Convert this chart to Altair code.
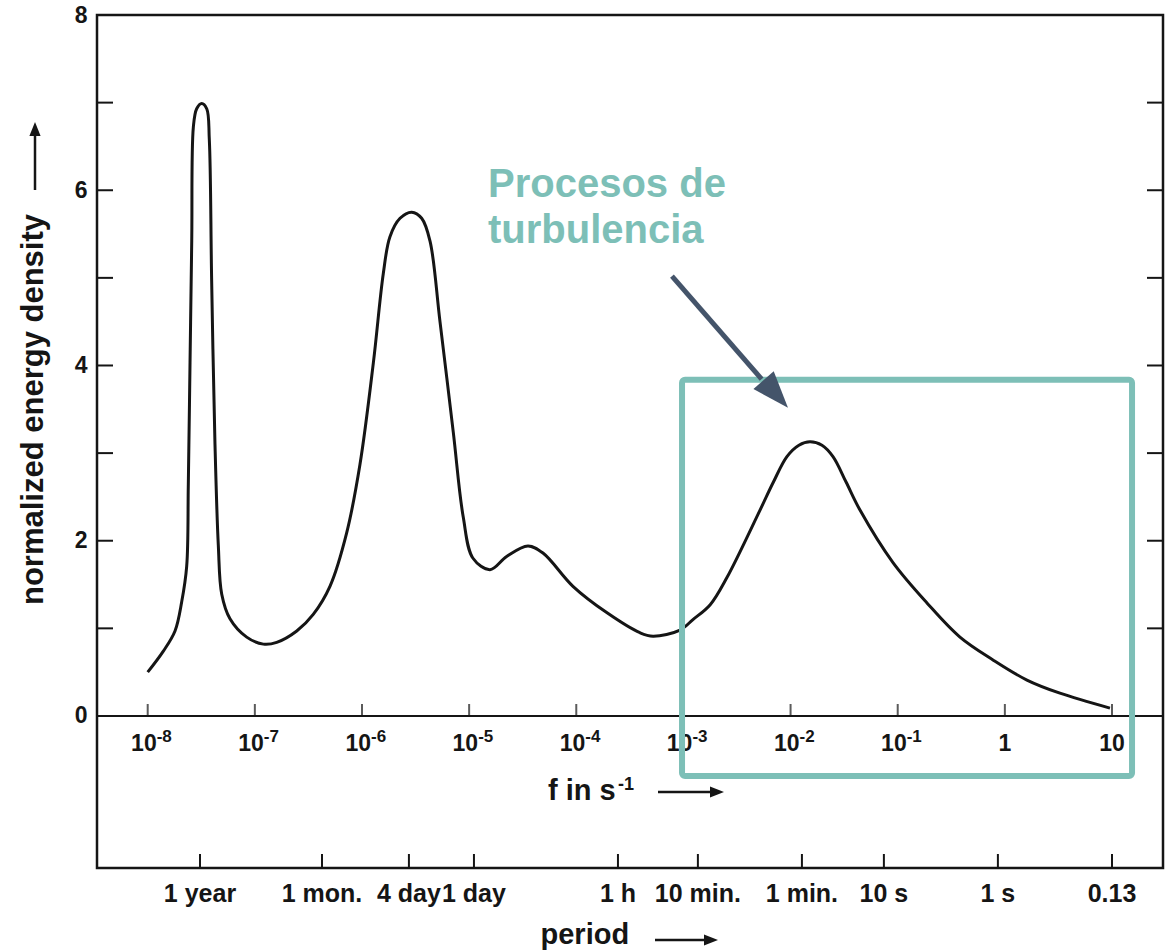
import altair as alt
import pandas as pd

FONT = "Liberation Sans, Arial, Helvetica, sans-serif"
INK = "#151515"
TEAL = "#7dbfb7"
SLATE = "#44546a"

# ---- curve: log10(frequency in s^-1) and normalized energy density ----
LOG_F = [-8.00, -7.854, -7.745, -7.683, -7.636, -7.621, -7.605, -7.589, -7.574, -7.543,
         -7.496, -7.449, -7.425, -7.403, -7.372, -7.341, -7.309, -7.232, -7.076, -6.921,
         -6.796, -6.609, -6.455, -6.299, -6.143, -6.019, -5.894, -5.801, -5.739, -5.645,
         -5.536, -5.443, -5.365, -5.272, -5.148, -5.055, -4.964, -4.805, -4.650, -4.451,
         -4.311, -4.031, -3.716, -3.406, -3.284, -3.032, -2.911, -2.750, -2.594, -2.285,
         -2.160, -2.034, -1.922, -1.819, -1.707, -1.604, -1.482, -1.352, -1.044, -0.727,
         -0.419, -0.111, 0.206, 0.514, 0.981]
ENERGY = [0.50, 0.74, 0.97, 1.30, 1.71, 2.64, 4.03, 5.42, 6.72, 6.93,
          6.99, 6.93, 6.58, 4.96, 3.10, 1.95, 1.39, 1.11, 0.90, 0.82,
          0.84, 0.97, 1.16, 1.48, 2.09, 2.87, 4.03, 5.05, 5.47, 5.68,
          5.75, 5.68, 5.42, 4.50, 3.24, 2.27, 1.80, 1.67, 1.82, 1.94,
          1.86, 1.48, 1.18, 0.95, 0.91, 0.98, 1.10, 1.27, 1.58, 2.35,
          2.67, 2.96, 3.09, 3.13, 3.09, 2.96, 2.67, 2.35, 1.75, 1.29,
          0.90, 0.64, 0.41, 0.26, 0.09]

# ---- frequency axis (inside the plot, on the zero line) ----
DECADE_EXP = [-8, -7, -6, -5, -4, -3, -2, -1]
PLAIN_EXP = [0, 1]
PLAIN_LABELS = ["1", "10"]

# ---- period axis (bottom) ----
PERIOD_LOGF = [-7.512, -6.373, -5.562, -4.955, -3.611, -2.865, -1.894, -1.129, -0.065, 1.0]
PERIOD_LABELS = ["1 year", "1 mon.", "4 day", "1 day", "1 h", "10 min.", "1 min.", "10 s", "1 s", "0.13"]

# ---- y axis ----
Y_MINOR = [1, 2, 3, 4, 5, 6, 7]
Y_LABELS = [0, 2, 4, 6, 8]

W, H = 1066, 853
xs = alt.Scale(type="log", domain=[10 ** -8.4732, 10 ** 1.4760], nice=False)
ys = alt.Scale(domain=[-1.735, 8.0], nice=False, zero=False)

curve = pd.DataFrame({"f": [10 ** v for v in LOG_F], "e": ENERGY})

line = alt.Chart(curve).mark_line(color=INK, strokeWidth=3, interpolate="catmull-rom").encode(
    x=alt.X("f:Q", scale=xs, axis=alt.Axis(
        labels=False, ticks=False, domain=False, grid=False,
        title="period", titleFont=FONT, titleFontSize=29, titleFontWeight="bold",
        titleColor=INK, titleX=443, titleY=75, titleAlign="left", titleBaseline="alphabetic")),
    y=alt.Y("e:Q", scale=ys, axis=alt.Axis(
        values=Y_LABELS, format="d", ticks=False, domain=False, grid=False,
        labelFont=FONT, labelFontSize=23, labelFontWeight="bold", labelColor=INK, labelPadding=10,
        title="normalized energy density", titleFont=FONT, titleFontSize=31,
        titleFontWeight="bold", titleColor=INK, titleAngle=270, titleX=-55, titleY=394,
        titleAlign="center", titleBaseline="alphabetic")),
)

zero_df = pd.DataFrame({"e": [0]})
zero_line = alt.Chart(zero_df).mark_rule(color=INK, strokeWidth=2).encode(
    y=alt.Y("e:Q"), x=alt.value(0), x2=alt.value(W))

ytk = pd.DataFrame({"e": Y_MINOR})
left_ticks = alt.Chart(ytk).mark_rule(color=INK, strokeWidth=2).encode(
    y=alt.Y("e:Q"), x=alt.value(0), x2=alt.value(16))
right_ticks = alt.Chart(ytk).mark_rule(color=INK, strokeWidth=2).encode(
    y=alt.Y("e:Q"), x=alt.value(W - 16), x2=alt.value(W))

dec = pd.DataFrame({
    "f": [10.0 ** e for e in DECADE_EXP + PLAIN_EXP],
    "e": [0] * (len(DECADE_EXP) + len(PLAIN_EXP)),
})
dec_ticks = alt.Chart(dec).mark_tick(color=INK, orient="vertical", size=12, thickness=2, yOffset=-6).encode(
    x="f:Q", y="e:Q")

dec_lab = pd.DataFrame({"f": [10.0 ** e for e in DECADE_EXP], "e": [0] * len(DECADE_EXP),
                        "base": ["10"] * len(DECADE_EXP), "exp": [str(e) for e in DECADE_EXP]})
dec_base = alt.Chart(dec_lab).mark_text(font=FONT, fontSize=23, fontWeight="bold", color=INK,
                                        align="right", baseline="alphabetic", dx=9, dy=35).encode(
    x="f:Q", y="e:Q", text="base:N")
dec_exp = alt.Chart(dec_lab).mark_text(font=FONT, fontSize=17, fontWeight="bold", color=INK,
                                       align="left", baseline="alphabetic", dx=9, dy=26).encode(
    x="f:Q", y="e:Q", text="exp:N")
plain_lab = pd.DataFrame({"f": [10.0 ** e for e in PLAIN_EXP], "e": [0] * len(PLAIN_EXP), "lab": PLAIN_LABELS})
plain_text = alt.Chart(plain_lab).mark_text(font=FONT, fontSize=23, fontWeight="bold", color=INK,
                                            align="center", baseline="alphabetic", dy=35).encode(
    x="f:Q", y="e:Q", text="lab:N")

per = pd.DataFrame({"f": [10 ** v for v in PERIOD_LOGF], "lab": PERIOD_LABELS})
per_ticks = alt.Chart(per).mark_rule(color=INK, strokeWidth=2).encode(
    x="f:Q", y=alt.value(H - 14), y2=alt.value(H))
per_text = alt.Chart(per).mark_text(font=FONT, fontSize=25, fontWeight="bold", color=INK,
                                    align="center", baseline="alphabetic").encode(
    x="f:Q", y=alt.value(H + 34), text="lab:N")

# "f in s^-1" label inside the plot
fl = pd.DataFrame({"f": [10 ** -4.264, 10 ** -3.611],
                   "e": [-0.959, -0.845],
                   "t": ["f in s", "-1"],
                   "fs": [29, 18]})
f_label = alt.Chart(fl).mark_text(font=FONT, fontWeight="bold", color=INK, align="left",
                                  baseline="alphabetic").encode(
    x="f:Q", y="e:Q", text="t:N", size=alt.Size("fs:Q", scale=None))

# small direction arrows next to the axis titles (decoration)
HEAD = "M0,-1L0.8,1L-0.8,1Z"
y_arrow = alt.Chart(zero_df).mark_rule(color=INK, strokeWidth=2.5).encode(
    x=alt.value(-62), y=alt.value(175), y2=alt.value(118))
y_head = alt.Chart(zero_df).mark_point(shape=HEAD, size=196, filled=True, opacity=1, color=INK,
                                       strokeWidth=0, angle=0).encode(
    x=alt.value(-62), y=alt.value(114))
f_arrow = alt.Chart(zero_df).mark_rule(color=INK, strokeWidth=2.5).encode(
    x=alt.value(561), x2=alt.value(616), y=alt.value(777))
f_head = alt.Chart(zero_df).mark_point(shape=HEAD, size=196, filled=True, opacity=1, color=INK,
                                       strokeWidth=0, angle=90).encode(
    x=alt.value(620), y=alt.value(777))
p_arrow = alt.Chart(zero_df).mark_rule(color=INK, strokeWidth=2.5).encode(
    x=alt.value(558), x2=alt.value(610), y=alt.value(925))
p_head = alt.Chart(zero_df).mark_point(shape=HEAD, size=196, filled=True, opacity=1, color=INK,
                                       strokeWidth=0, angle=90).encode(
    x=alt.value(614), y=alt.value(925))

# annotation: box, arrow, text
box = pd.DataFrame({"f0": [10 ** -3.013], "f1": [10 ** 1.187], "e0": [3.836], "e1": [-0.685]})
box_mark = alt.Chart(box).mark_rect(fillOpacity=0, stroke=TEAL, strokeWidth=6, cornerRadius=3).encode(
    x="f0:Q", x2="f1:Q", y="e0:Q", y2="e1:Q")

arr = pd.DataFrame({"f0": [10 ** -3.107], "e0": [5.02], "f1": [10 ** -2.270], "e1": [3.845]})
arrow_line = alt.Chart(arr).mark_rule(color=SLATE, strokeWidth=5).encode(
    x="f0:Q", y="e0:Q", x2="f1:Q", y2="e1:Q")
head = pd.DataFrame({"f": [10 ** -2.138], "e": [3.675]})
arrow_head = alt.Chart(head).mark_point(shape="M0,-1L0.73,1L-0.73,1Z", size=1369, filled=True,
                                        color=SLATE, opacity=1, angle=138.7, strokeWidth=0).encode(
    x="f:Q", y="e:Q")

ann = pd.DataFrame({"f": [10 ** -4.824, 10 ** -4.824], "e": [5.925, 5.40],
                    "t": ["Procesos de", "turbulencia"]})
ann_text = alt.Chart(ann).mark_text(font=FONT, fontSize=40, fontWeight="bold", color=TEAL,
                                    align="left", baseline="alphabetic").encode(
    x="f:Q", y="e:Q", text="t:N")

chart = alt.layer(
    line, zero_line, left_ticks, right_ticks, dec_ticks, dec_base, dec_exp, plain_text,
    per_ticks, per_text, f_label, y_arrow, y_head, f_arrow, f_head, p_arrow, p_head,
    box_mark, arrow_line, arrow_head, ann_text
).properties(
    width=W, height=H,
    autosize=alt.AutoSizeParams(type="none"),
    padding={"left": 97, "top": 15, "right": 11, "bottom": 82},
    background="white",
).configure_view(stroke=INK, strokeWidth=2.5)

chart.save("out.html", embed_options={"renderer": "svg", "actions": False})
